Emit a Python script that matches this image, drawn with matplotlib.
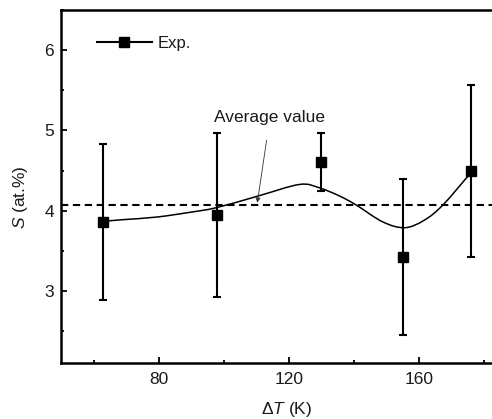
import matplotlib
matplotlib.use("Agg")
import matplotlib.pyplot as plt
import numpy as np
from matplotlib.path import Path
from matplotlib.patches import PathPatch
from matplotlib.lines import Line2D
from matplotlib.ticker import MultipleLocator

plt.rcParams['font.family'] = ['Liberation Sans', 'DejaVu Sans']
plt.rcParams['mathtext.fontset'] = 'custom'
plt.rcParams['mathtext.rm'] = 'Liberation Sans'
plt.rcParams['mathtext.it'] = 'Liberation Sans:italic'

# ---- data ----
delta_T = [63, 98, 130, 155, 176]
S_values = [3.86, 3.95, 4.61, 3.42, 4.49]
S_errors = [0.97, 1.02, 0.36, 0.97, 1.07]
average_value = 4.07

# smooth guide curve (knots)
curve_x = [62.9, 69.0, 79.3, 89.5, 97.7, 110.5, 123.3, 129.4, 135.6, 140.7, 148.9, 155.6, 161.5, 167.3, 175.9]
curve_y = [3.868, 3.889, 3.921, 3.980, 4.038, 4.183, 4.328, 4.285, 4.183, 4.071, 3.860, 3.789, 3.880, 4.071, 4.474]

x_ticks = [80, 120, 160]
y_ticks = [3, 4, 5, 6]

FS = 12.5
TXT = '#1a1a1a'

fig = plt.figure(figsize=(4.92, 4.19), dpi=100)
ax = fig.add_axes([0.124, 0.1329, 0.876, 0.8432])

# average dashed line
ax.axhline(average_value, color='black', lw=1.5, ls=(0, (3.5, 2.2)), zorder=1)

# smooth curve through knots as Bezier (Catmull-Rom)
K = np.column_stack([curve_x, curve_y])
n = len(K)
verts = [tuple(K[0])]
codes = [Path.MOVETO]
for i in range(n - 1):
    p0 = K[i - 1] if i > 0 else K[i]
    p1 = K[i]
    p2 = K[i + 1]
    p3 = K[i + 2] if i + 2 < n else K[i + 1]
    c1 = p1 + (p2 - p0) / 6.0
    c2 = p2 - (p3 - p1) / 6.0
    verts += [tuple(c1), tuple(c2), tuple(p2)]
    codes += [Path.CURVE4] * 3
ax.add_patch(PathPatch(Path(verts, codes), facecolor='none', edgecolor='black', lw=1.1, zorder=2))

# data with error bars
ax.errorbar(delta_T, S_values, yerr=S_errors, fmt='s', color='black', ms=6.5,
            elinewidth=1.5, capsize=3.2, capthick=1.5, zorder=3)

# annotation
ax.annotate('Average value', xy=(110.3, 4.10), xytext=(114.2, 5.16),
            ha='center', va='center', fontsize=FS, color=TXT,
            arrowprops=dict(arrowstyle='-|>', color='#333333', lw=0.6,
                            mutation_scale=7, shrinkA=9, shrinkB=0))

# legend
h = Line2D([], [], color='black', marker='s', ms=6.5, lw=1.5)
ax.legend([h], ['Exp.'], loc='center left', bbox_to_anchor=(0.0835, 0.906),
          frameon=False, fontsize=12, handlelength=3.3, handletextpad=0.35,
          borderpad=0, borderaxespad=0, labelcolor=TXT)

ax.set_xlim(50, 182.4)
ax.set_ylim(2.1, 6.5)
ax.set_xticks(x_ticks)
ax.set_yticks(y_ticks)
ax.xaxis.set_minor_locator(MultipleLocator(20))
ax.yaxis.set_minor_locator(MultipleLocator(0.5))

for s in ax.spines.values():
    s.set_linewidth(1.8)
ax.spines['right'].set_visible(False)
ax.tick_params(which='major', direction='in', length=4.5, width=1.3, labelsize=FS,
               labelcolor=TXT, top=False, right=False)
ax.tick_params(axis='x', which='major', pad=6.3)
ax.tick_params(axis='y', which='major', pad=5)
ax.tick_params(which='minor', direction='in', length=2.5, width=1.3, top=False, right=False)

ax.set_xlabel(r'$\Delta\mathit{T}$ (K)', fontsize=FS, color=TXT)
ax.set_ylabel(r'$S$ (at.%)', fontsize=FS, color=TXT)
ax.xaxis.set_label_coords(0.524, -0.132)
ax.xaxis.label.set_va('center')
ax.yaxis.set_label_coords(-0.093, 0.47)
ax.yaxis.label.set_va('center')

fig.savefig('out.png', dpi=100)
